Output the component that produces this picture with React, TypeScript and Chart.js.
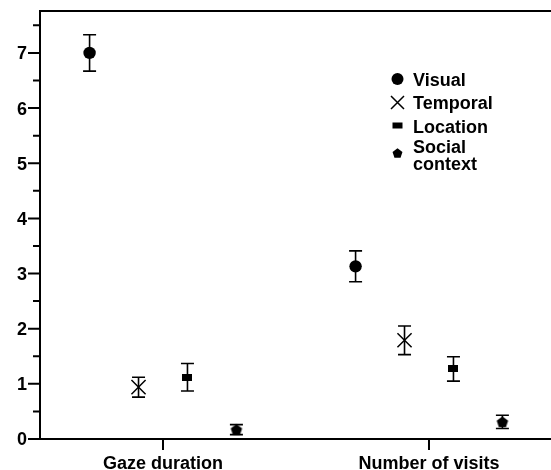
import React, { useEffect, useRef } from "react";
import { Chart, registerables } from "chart.js";

Chart.register(...registerables);

// ---- data ----
const categories = ["Gaze duration", "Number of visits"];
const seriesNames = ["Visual", "Temporal", "Location", "Social context"];
const visualMeans = [7.0, 3.13];
const visualErrors = [0.33, 0.28];
const temporalMeans = [0.94, 1.79];
const temporalErrors = [0.18, 0.26];
const locationMeans = [1.12, 1.27];
const locationErrors = [0.25, 0.22];
const socialMeans = [0.17, 0.31];
const socialErrors = [0.09, 0.12];
const yTickValues = [0, 1, 2, 3, 4, 5, 6, 7];

const FONT = '"Liberation Sans", Arial, Helvetica, sans-serif';
const Y_MAX = 7.76;
const X_MIN = 0.5376;
const X_MAX = 2.4587;
const GROUP_SPACING = 0.184;

function makeRectCanvas(w: number, h: number) {
  const c = document.createElement("canvas");
  c.width = w;
  c.height = h;
  const ctx = c.getContext("2d")!;
  ctx.fillStyle = "#000";
  ctx.fillRect(0, 0, w, h);
  return c;
}

function pentagonPath(ctx: CanvasRenderingContext2D, cx: number, cy: number, r: number) {
  ctx.beginPath();
  for (let k = 0; k < 5; k++) {
    const a = -Math.PI / 2 + (k * 2 * Math.PI) / 5;
    const px = cx + r * Math.cos(a);
    const py = cy + r * Math.sin(a);
    if (k === 0) ctx.moveTo(px, py);
    else ctx.lineTo(px, py);
  }
  ctx.closePath();
}

function makePentagonCanvas(r: number) {
  const s = Math.ceil(r * 2 + 2);
  const c = document.createElement("canvas");
  c.width = s;
  c.height = s;
  const ctx = c.getContext("2d")!;
  ctx.fillStyle = "#000";
  pentagonPath(ctx, s / 2, s / 2 + 0.5, r);
  ctx.fill();
  return c;
}

const customPlugin = {
  id: "customDecor",
  beforeDatasetsDraw(chart: any) {
    const ctx = chart.ctx as CanvasRenderingContext2D;
    const ys = chart.scales.y;
    ctx.save();
    ctx.strokeStyle = "#000";
    ctx.lineWidth = 1.6;
    chart.data.datasets.forEach((ds: any, di: number) => {
      const meta = chart.getDatasetMeta(di);
      meta.data.forEach((el: any, i: number) => {
        const mean = ds.data[i].y;
        const err = ds.errors[i];
        const yTop = ys.getPixelForValue(mean + err);
        const yBot = ys.getPixelForValue(mean - err);
        const x = el.x;
        ctx.beginPath();
        ctx.moveTo(x, yTop);
        ctx.lineTo(x, yBot);
        ctx.moveTo(x - 6.5, yTop);
        ctx.lineTo(x + 6.5, yTop);
        ctx.moveTo(x - 6.5, yBot);
        ctx.lineTo(x + 6.5, yBot);
        ctx.stroke();
      });
    });
    ctx.restore();
  },
  afterDraw(chart: any) {
    const ctx = chart.ctx as CanvasRenderingContext2D;
    const ca = chart.chartArea;
    const ys = chart.scales.y;
    const xs = chart.scales.x;
    ctx.save();
    ctx.strokeStyle = "#000";
    ctx.lineWidth = 2;
    ctx.lineCap = "square";
    // frame
    ctx.beginPath();
    ctx.moveTo(ca.right, ca.top);
    ctx.lineTo(ca.left, ca.top);
    ctx.lineTo(ca.left, ca.bottom);
    ctx.lineTo(ca.right, ca.bottom);
    ctx.stroke();
    ctx.lineCap = "butt";
    // y ticks
    ctx.beginPath();
    yTickValues.forEach((v) => {
      const y = ys.getPixelForValue(v);
      ctx.moveTo(ca.left - 12, y);
      ctx.lineTo(ca.left, y);
      const m = v + 0.5;
      if (m < Y_MAX) {
        const ym = ys.getPixelForValue(m);
        ctx.moveTo(ca.left - 7, ym);
        ctx.lineTo(ca.left, ym);
      }
    });
    // x category ticks
    categories.forEach((_, i) => {
      const x = xs.getPixelForValue(i + 1);
      ctx.moveTo(x, ca.bottom);
      ctx.lineTo(x, ca.bottom + 11);
    });
    ctx.stroke();

    // legend
    const mx = 397.5;
    const tx = 413;
    ctx.fillStyle = "#000";
    ctx.font = `bold 18px ${FONT}`;
    ctx.textAlign = "left";
    ctx.textBaseline = "alphabetic";
    // Visual
    ctx.beginPath();
    ctx.arc(mx, 79, 6, 0, Math.PI * 2);
    ctx.fill();
    ctx.fillText(seriesNames[0], tx, 85.5);
    // Temporal
    ctx.lineWidth = 1.5;
    ctx.beginPath();
    ctx.moveTo(mx - 6.5, 96);
    ctx.lineTo(mx + 6.5, 109);
    ctx.moveTo(mx + 6.5, 96);
    ctx.lineTo(mx - 6.5, 109);
    ctx.stroke();
    ctx.fillText(seriesNames[1], tx, 109);
    // Location
    ctx.fillRect(mx - 5, 122.5, 10, 6);
    ctx.fillText(seriesNames[2], tx, 132.5);
    // Social context
    pentagonPath(ctx, mx, 153.5, 5.2);
    ctx.fill();
    const socialLines = seriesNames[3].split(" ");
    ctx.fillText(socialLines[0], tx, 153);
    ctx.fillText(socialLines[1], tx, 170);
    ctx.restore();
  },
};

export default function App() {
  const canvasRef = useRef<HTMLCanvasElement | null>(null);

  useEffect(() => {
    if (!canvasRef.current) return;
    const rectImg = makeRectCanvas(10, 7);
    const pentImg = makePentagonCanvas(6);
    const offsets = [-1.5, -0.5, 0.5, 1.5].map((k) => k * GROUP_SPACING);
    const toPoints = (vals: number[], s: number) =>
      vals.map((v, i) => ({ x: i + 1 + offsets[s], y: v }));

    const chart = new Chart(canvasRef.current, {
      type: "scatter",
      data: {
        datasets: [
          {
            label: seriesNames[0],
            data: toPoints(visualMeans, 0),
            errors: visualErrors,
            pointStyle: "circle",
            pointRadius: 6.2,
            backgroundColor: "#000",
            borderColor: "#000",
            borderWidth: 0,
          },
          {
            label: seriesNames[1],
            data: toPoints(temporalMeans, 1),
            errors: temporalErrors,
            pointStyle: "crossRot",
            pointRadius: 10,
            backgroundColor: "#000",
            borderColor: "#000",
            borderWidth: 1.5,
          },
          {
            label: seriesNames[2],
            data: toPoints(locationMeans, 2),
            errors: locationErrors,
            pointStyle: rectImg,
            pointRadius: 6,
            backgroundColor: "#000",
            borderColor: "#000",
          },
          {
            label: seriesNames[3],
            data: toPoints(socialMeans, 3),
            errors: socialErrors,
            pointStyle: pentImg,
            pointRadius: 6,
            backgroundColor: "#000",
            borderColor: "#000",
          },
        ] as any,
      },
      options: {
        animation: false,
        responsive: false,
        maintainAspectRatio: false,
        layout: { autoPadding: false, padding: { top: 11, left: 0, right: 0, bottom: 0 } },
        plugins: {
          legend: { display: false },
          tooltip: { enabled: false },
        },
        events: [],
        scales: {
          x: {
            type: "linear",
            min: X_MIN,
            max: X_MAX,
            grid: { display: false, drawTicks: false },
            border: { display: false },
            afterBuildTicks: (scale: any) => {
              scale.ticks = categories.map((_, i) => ({ value: i + 1 }));
            },
            afterFit: (scale: any) => {
              scale.height = 31;
              scale.paddingLeft = 0;
              scale.paddingRight = 0;
              scale.paddingTop = 0;
              scale.paddingBottom = 0;
            },
            ticks: {
              autoSkip: false,
              maxRotation: 0,
              padding: 14.5,
              color: "#000",
              font: { family: FONT, weight: "bold", size: 18 },
              callback: (v: any) => categories[Math.round(Number(v)) - 1] ?? "",
            },
          },
          y: {
            type: "linear",
            min: 0,
            max: Y_MAX,
            grid: { display: false, drawTicks: false },
            border: { display: false },
            afterFit: (scale: any) => {
              scale.width = 40;
              scale.paddingLeft = 0;
              scale.paddingRight = 0;
              scale.paddingTop = 0;
              scale.paddingBottom = 0;
            },
            ticks: {
              stepSize: 1,
              includeBounds: false,
              padding: 13,
              labelOffset: 1.5,
              color: "#000",
              font: { family: FONT, weight: "bold", size: 18 },
              callback: (v: any) => String(v),
            },
          },
        },
      } as any,
      plugins: [customPlugin],
    });
    return () => chart.destroy();
  }, []);

  return (
    <div style={{ position: "fixed", left: 0, top: 0, width: 551, height: 470, background: "#fff" }}>
      <canvas ref={canvasRef} width={551} height={470} style={{ display: "block" }} />
    </div>
  );
}
